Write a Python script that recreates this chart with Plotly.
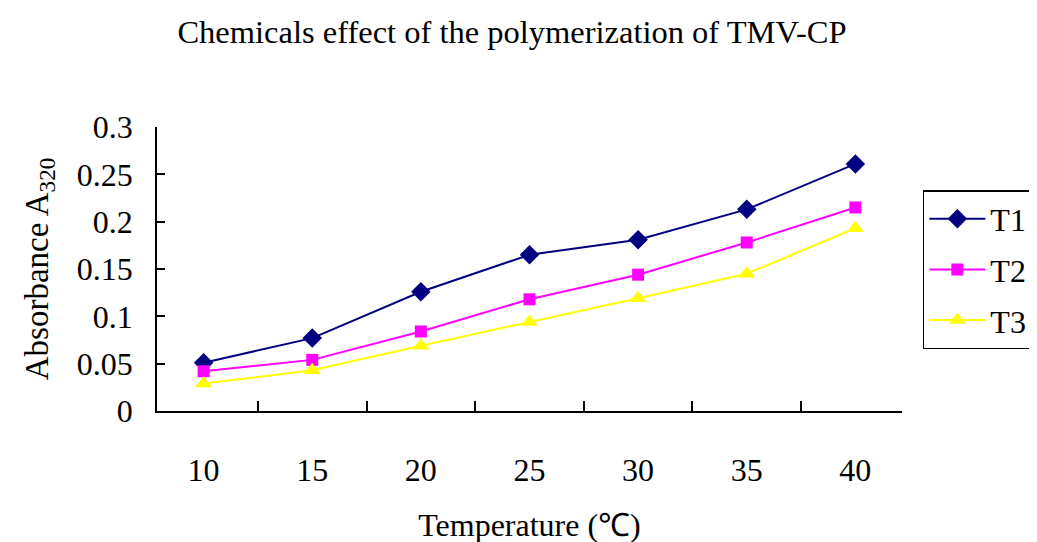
import plotly.graph_objects as go

temps = ["10", "15", "20", "25", "30", "35", "40"]
t1 = [0.051, 0.077, 0.126, 0.165, 0.181, 0.213, 0.261]
t2 = [0.042, 0.054, 0.084, 0.118, 0.144, 0.178, 0.215]
t3 = [0.029, 0.043, 0.069, 0.094, 0.119, 0.145, 0.193]
series_names = ["T1", "T2", "T3"]
colors = ["#000080", "#FF00FF", "#FFFF00"]
symbols = ["diamond", "square", "triangle-up"]
sizes = [15, 12, 15]

FONT = "Liberation Serif, Times New Roman, serif"

fig = go.Figure()
for i, (name, vals) in enumerate(zip(series_names, [t1, t2, t3])):
    fig.add_trace(go.Scatter(
        x=temps, y=vals, name=name, mode="lines+markers",
        line=dict(color=colors[i], width=2),
        marker=dict(symbol=symbols[i], size=sizes[i], color=colors[i]),
        legendgroup=name,
    ))

fig.update_layout(
    template="none",
    width=1037, height=542,
    margin=dict(l=149, r=141, t=119, b=139),
    paper_bgcolor="white", plot_bgcolor="white",
    font=dict(family=FONT, size=32, color="black"),
    title=dict(text="Chemicals effect of the polymerization of TMV-CP",
               x=0.486, xanchor="center", y=0.9557, yanchor="middle",
               font=dict(size=32.5, family=FONT)),
    showlegend=True,
    legend=dict(x=1.028, xanchor="left", y=0.498, yanchor="middle",
                bordercolor="black", borderwidth=1.5, bgcolor="white",
                traceorder="grouped", tracegroupgap=6, itemwidth=56,
                font=dict(size=32, family=FONT)),
)
fig.update_xaxes(
    type="category", tickson="boundaries", ticks="inside", ticklen=10,
    tickcolor="black", tickwidth=1.5, automargin=False,
    showline=True, linecolor="black", linewidth=1.5, showgrid=False,
    ticklabelstandoff=30, zeroline=False,
    title=dict(text="Temperature (℃)", standoff=26, font=dict(size=32)),
)
fig.update_yaxes(
    range=[0, 0.3], dtick=0.05, tick0=0, ticks="inside", ticklen=8,
    tickcolor="black", tickwidth=1.5, automargin=False,
    showline=True, linecolor="black", linewidth=1.5, showgrid=False,
    zeroline=False, ticklabelstandoff=16,
    title=dict(text="Absorbance A<sub>320</sub>", standoff=18, font=dict(size=33)),
)
fig.write_html("out.html")
